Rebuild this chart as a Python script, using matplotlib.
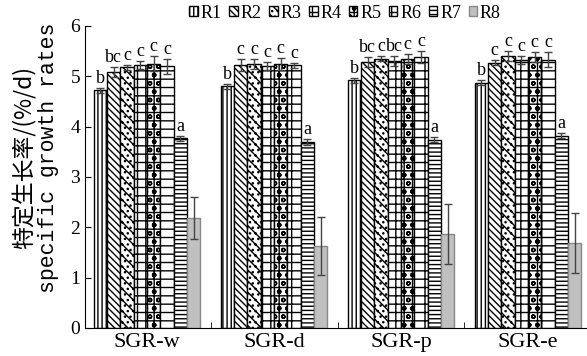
import matplotlib
matplotlib.use("Agg")
import matplotlib.pyplot as plt
import numpy as np

groups = ["SGR-w", "SGR-d", "SGR-p", "SGR-e"]
series = ["R1", "R2", "R3", "R4", "R5", "R6", "R7", "R8"]

sgr_w = [4.72, 5.08, 5.18, 5.22, 5.25, 5.20, 3.77, 2.19]
sgr_d = [4.80, 5.22, 5.24, 5.20, 5.25, 5.22, 3.70, 1.63]
sgr_p = [4.92, 5.28, 5.35, 5.30, 5.35, 5.38, 3.74, 1.87]
sgr_e = [4.87, 5.27, 5.40, 5.33, 5.38, 5.33, 3.82, 1.69]

err_w = [0.05, 0.10, 0.05, 0.08, 0.15, 0.15, 0.05, 0.42]
err_d = [0.05, 0.12, 0.10, 0.08, 0.12, 0.05, 0.06, 0.58]
err_p = [0.05, 0.10, 0.05, 0.10, 0.10, 0.12, 0.05, 0.60]
err_e = [0.05, 0.05, 0.10, 0.08, 0.10, 0.15, 0.05, 0.60]

letters_w = ["b", "bc", "c", "c", "c", "c", "a", ""]
letters_d = ["b", "c", "c", "c", "c", "c", "a", ""]
letters_p = ["b", "bc", "c", "bc", "c", "c", "a", ""]
letters_e = ["b", "c", "c", "c", "c", "c", "a", ""]

values = np.array([sgr_w, sgr_d, sgr_p, sgr_e])
errors = np.array([err_w, err_d, err_p, err_e])
letters = [letters_w, letters_d, letters_p, letters_e]

hatches = ["||||", "\\\\\\\\\\", "\\\\\\...", "++", "++oo", "-+", "----", ""]
faces = ["white"] * 7 + ["#c0c0c0"]
edges = ["black"] * 7 + ["#888888"]

plt.rcParams["hatch.linewidth"] = 1.0
serif = ["Liberation Serif", "DejaVu Serif"]

fig = plt.figure(figsize=(5.87, 3.56), dpi=100)
ax = fig.add_axes([0.145, 0.079, 0.855, 0.848])

x = np.arange(len(groups))
w = 0.105
for i, s in enumerate(series):
    pos = x + (i - 3.5) * w
    ax.bar(pos, values[:, i], width=w, facecolor=faces[i], edgecolor=edges[i],
           hatch=hatches[i], linewidth=1.0, label=s)
    ax.errorbar(pos, values[:, i], yerr=errors[:, i], fmt="none",
                ecolor="#444444", elinewidth=1.0, capsize=3, capthick=1.0)
    for g in range(len(groups)):
        lab = letters[g][i]
        if lab:
            ax.text(pos[g], values[g, i] + errors[g, i] + 0.02, lab,
                    ha="center", va="bottom", fontsize=13, family=serif)

ax.set_xlim(-0.488, 3.465)
ax.set_ylim(0, 6)
ax.set_yticks(range(7))
ax.set_xticks(x)
ax.set_xticklabels(groups, fontsize=16, family=serif)
ax.set_xticks([0.5, 1.5, 2.5], minor=True)
ax.tick_params(axis="x", which="major", length=0, pad=4)
ax.tick_params(axis="x", which="minor", direction="in", length=4)
ax.tick_params(axis="y", direction="in", length=4, labelsize=14)
for t in ax.get_yticklabels():
    t.set_family(serif)
ax.spines["top"].set_visible(False)
ax.spines["right"].set_visible(False)

fig.text(0.042, 0.557, "特定生长率/(%/d)", rotation=90, ha="center", va="center",
         fontsize=16.5, family=["Noto Sans CJK SC", "DejaVu Sans"])
fig.text(0.083, 0.557, "specific growth rates", rotation=90, ha="center", va="center",
         fontsize=15.5, family=["Liberation Mono", "DejaVu Sans Mono"])

ax.legend(loc="upper center", bbox_to_anchor=(0.518, 1.095), ncol=8, frameon=False,
          handlelength=0.45, handleheight=0.45, handletextpad=0.15, columnspacing=0.45,
          prop={"family": serif, "size": 13}, borderaxespad=0)

fig.savefig("out.png", dpi=100)
